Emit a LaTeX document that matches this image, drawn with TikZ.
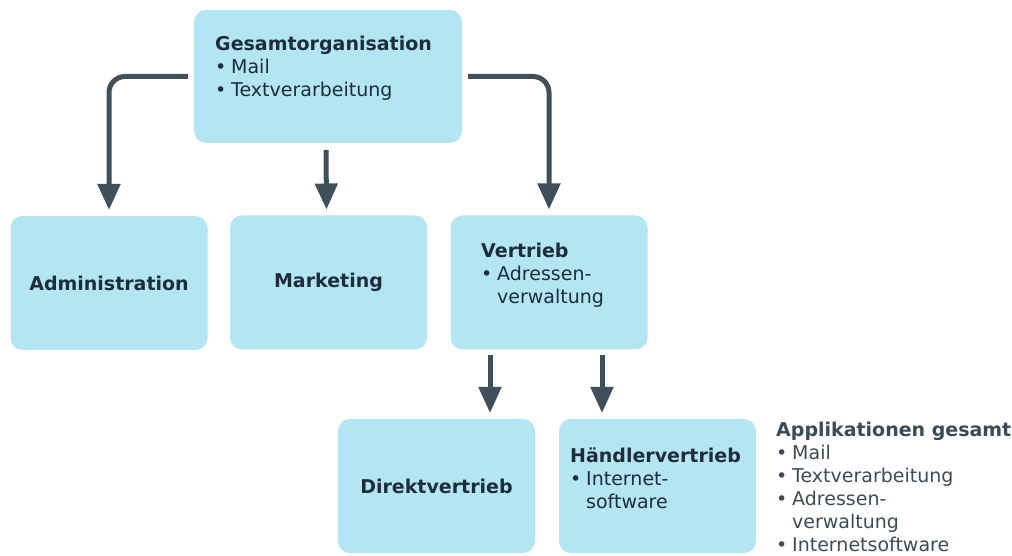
\documentclass[tikz,border=0pt]{standalone}
\usepackage{fontspec}
\setmainfont{DejaVu Sans}
\usetikzlibrary{arrows.meta, positioning, calc}

\definecolor{boxblue}{HTML}{B3E5F3}
\definecolor{boxtext}{HTML}{1D2D3A}
\definecolor{graytext}{HTML}{3C4C57}
\definecolor{arrowgray}{HTML}{3F505B}

\newcommand{\itm}[1]{\makebox[16pt][l]{•}#1}
\newcommand{\cont}[1]{\hspace*{16pt}#1}

\begin{document}
\begin{tikzpicture}[x=1pt, y=1pt,
    box/.style={fill=boxblue, rounded corners=12pt, minimum width=197pt, minimum height=134pt,
        inner sep=0pt, outer sep=0pt, text=boxtext, font=\bfseries\fontsize{19}{23}\selectfont},
    txt/.style={anchor=north west, align=left, inner sep=0pt, text=boxtext,
        font=\fontsize{19}{23}\selectfont},
    conn/.style={color=arrowgray, line width=5pt, -{Triangle[width=22pt,length=26pt]}}]
    \useasboundingbox (0,0) rectangle (1012,556);

    \node[box, minimum width=268pt, minimum height=133pt] (gesamt) at (328,479.5) {};
    \node[box] (admin) at (109,273) {Administration};
    \node[box] (marketing) at (328.5,273.5) {Marketing};
    \node[box] (vertrieb) at (549,273.5) {};
    \node[box] (direkt) at (436.5,70) {Direktvertrieb};
    \node[box] (haendler) at (657.5,70) {};

    \node[txt] (gesamttxt) at (215,520) {{\bfseries Gesamtorganisation}\\ \itm{Mail}\\ \itm{Textverarbeitung}};
    \node[txt] (vertriebtxt) at (481,313) {{\bfseries Vertrieb}\\ \itm{Adressen-}\\ \cont{verwaltung}};
    \node[txt] (haendlertxt) at (570,108) {{\bfseries Händlervertrieb}\\ \itm{Internet-}\\ \cont{software}};
    \node[txt, text=graytext] (apps) at (776,134) {{\bfseries Applikationen gesamt}\\ \itm{Mail}\\
        \itm{Textverarbeitung}\\ \itm{Adressen-}\\ \cont{verwaltung}\\ \itm{Internetsoftware}};

    \draw[conn, rounded corners=16pt] ([xshift=-6pt]gesamt.west) -| ([yshift=6pt]admin.north);
    \draw[conn] ([xshift=-2pt,yshift=-7pt]gesamt.south) -- ([xshift=-2pt,yshift=6pt]marketing.north);
    \draw[conn, rounded corners=16pt] ([xshift=6pt]gesamt.east) -| ([yshift=6pt]vertrieb.north);
    \draw[conn] ([xshift=-59pt,yshift=-6pt]vertrieb.south) -- ([xshift=-59pt,yshift=6pt]vertrieb.south |- direkt.north);
    \draw[conn] ([xshift=53pt,yshift=-6pt]vertrieb.south) -- ([xshift=53pt,yshift=6pt]vertrieb.south |- haendler.north);
\end{tikzpicture}
\end{document}
